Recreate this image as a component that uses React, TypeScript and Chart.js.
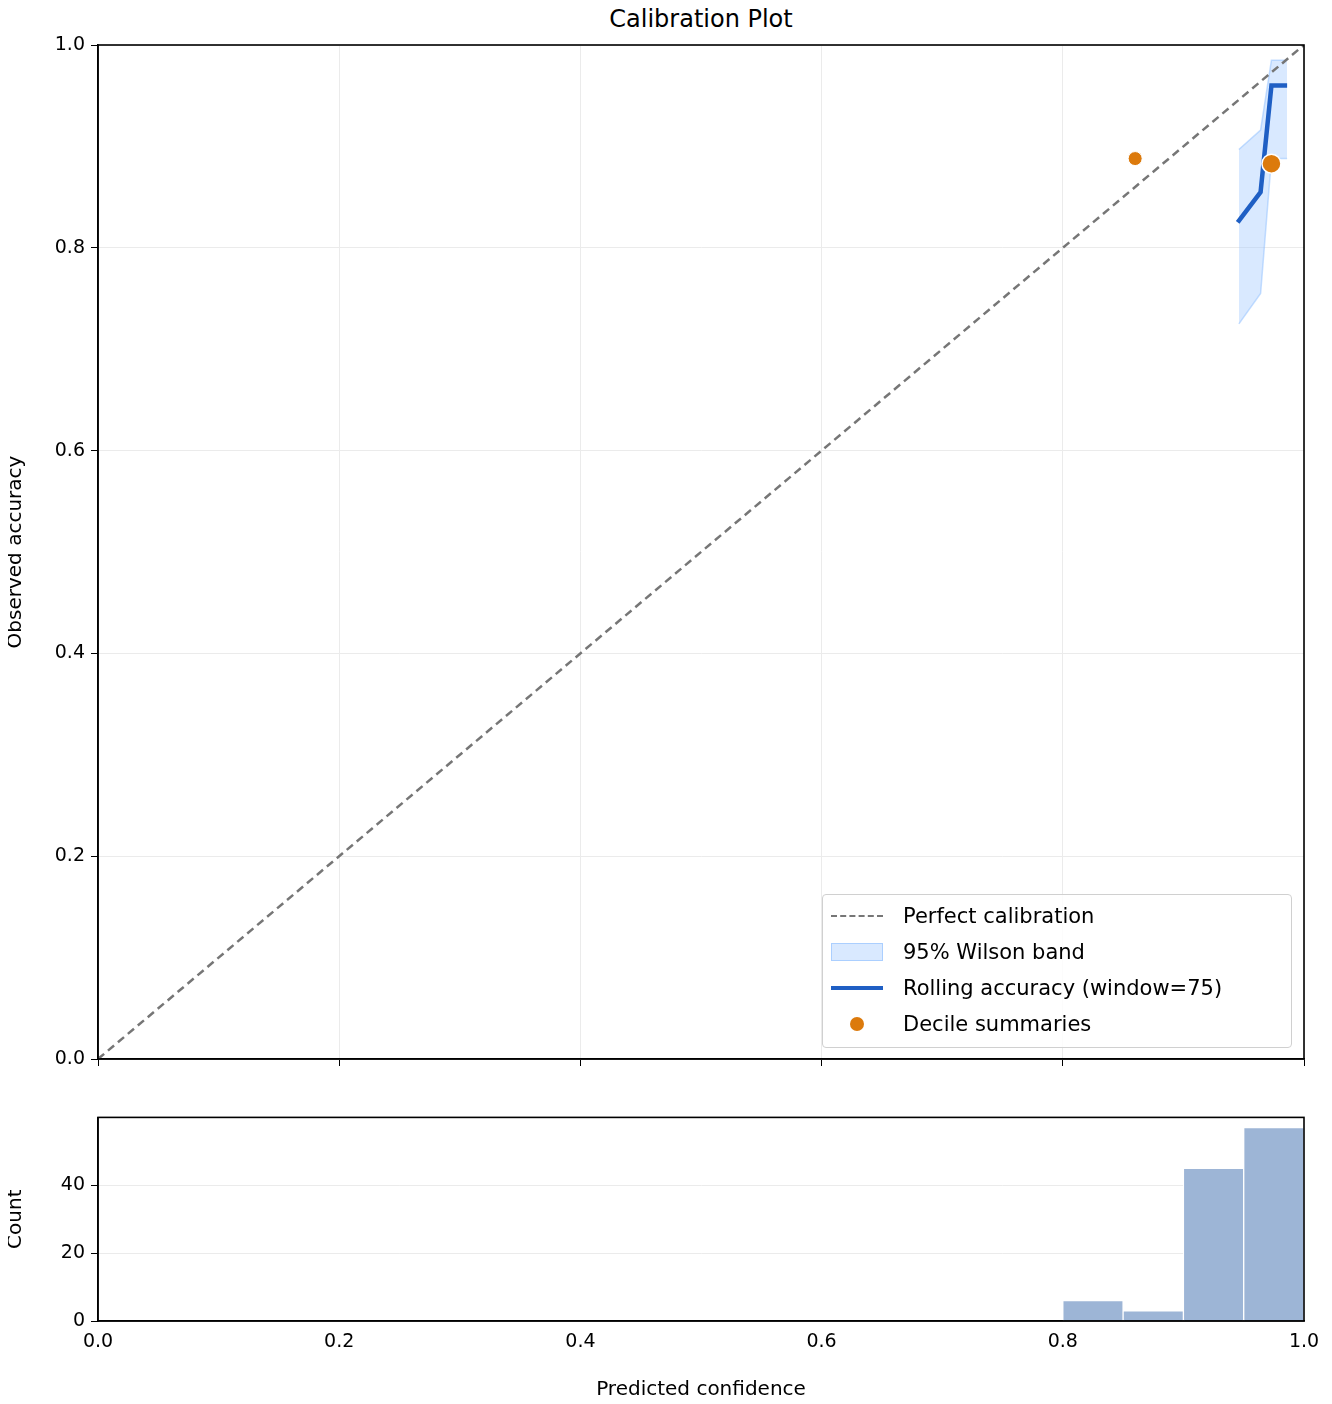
import React, { useEffect, useRef } from "react";
import { Chart, registerables } from "chart.js";
Chart.register(...registerables);

const diagX = [0, 1];
const rollX = [0.945, 0.964, 0.973, 0.986];
const rollY = [0.825, 0.855, 0.96, 0.96];
const bandX = [0.946, 0.964, 0.973, 0.986];
const bandUpper = [0.897, 0.916, 0.985, 0.985];
const bandLower = [0.725, 0.755, 0.888, 0.888];
const decileSmallX = [0.86];
const decileSmallY = [0.888];
const decileBigX = [0.973];
const decileBigY = [0.883];
const binCenters = [0.825, 0.875, 0.925, 0.975];
const binCounts = [6, 3, 45, 57];
const mainTicks = [0, 0.2, 0.4, 0.6, 0.8, 1.0];
const histTicks = [0, 20, 40];

const FONT = "'DejaVu Sans', sans-serif";
const frame = {
  id: "frame",
  afterDraw(c: any) {
    const a = c.chartArea, ctx = c.ctx;
    ctx.save(); ctx.strokeStyle = "#000"; ctx.lineWidth = 1.6;
    ctx.strokeRect(a.left, a.top, a.right - a.left, a.bottom - a.top);
    ctx.restore();
  },
};
const pts = (xs: number[], ys: number[]) => xs.map((x, i) => ({ x, y: ys[i] }));

export default function App() {
  const r1 = useRef<HTMLCanvasElement>(null);
  const r2 = useRef<HTMLCanvasElement>(null);
  useEffect(() => {
    const tickFont = { family: FONT, size: 19 };
    const titleFont = { family: FONT, size: 20 };
    const c1 = new Chart(r1.current!, {
      type: "line",
      data: {
        datasets: [
          { order: 10, data: pts(bandX, bandUpper), borderColor: "rgba(140,190,255,0.5)", borderWidth: 1.5, backgroundColor: "rgba(160,200,255,0.4)", fill: "+1", pointRadius: 0 },
          { order: 11, data: pts(bandX, bandLower), borderColor: "rgba(140,190,255,0.5)", borderWidth: 1.5, fill: false, pointRadius: 0 },
          { order: 5, data: pts(diagX, diagX), borderColor: "#767676", borderWidth: 2.5, borderDash: [8, 5], pointRadius: 0, fill: false },
          { order: 3, data: pts(rollX, rollY), borderColor: "#1f5fc4", borderWidth: 4.5, pointRadius: 0, fill: false },
          { order: 1, type: "scatter", data: pts(decileSmallX, decileSmallY), backgroundColor: "#dc7a0c", borderColor: "#fff", borderWidth: 1, pointRadius: 7 },
          { order: 0, type: "scatter", data: pts(decileBigX, decileBigY), backgroundColor: "#dc7a0c", borderColor: "#fff", borderWidth: 1.5, pointRadius: 9.5 },
        ] as any,
      },
      options: {
        animation: false, responsive: false, devicePixelRatio: 1,
        layout: { padding: { top: 45, right: 28, left: 0, bottom: 0 } },
        plugins: { legend: { display: false }, tooltip: { enabled: false } },
        scales: {
          x: {
            type: "linear", min: 0, max: 1,
            afterBuildTicks: (s: any) => { s.ticks = mainTicks.map((v) => ({ value: v })); },
            ticks: { callback: () => "", font: tickFont },
            grid: { color: "#ebebeb", tickColor: "#000", tickLength: 7, lineWidth: 1 },
            border: { color: "#000", width: 1.6 },
            afterFit: (s: any) => { s.height = 21; },
          },
          y: {
            type: "linear", min: 0, max: 1,
            afterBuildTicks: (s: any) => { s.ticks = mainTicks.map((v) => ({ value: v })); },
            ticks: { callback: (v: any) => Number(v).toFixed(1), font: tickFont, color: "#000", padding: 6 },
            grid: { color: "#ebebeb", tickColor: "#000", tickLength: 7 },
            border: { color: "#000", width: 1.6 },
            title: { display: true, text: "Observed accuracy", font: titleFont, color: "#000", padding: 4 },
            afterFit: (s: any) => { s.width = 98; },
          },
        },
      },
      plugins: [frame],
    });
    const c2 = new Chart(r2.current!, {
      type: "bar",
      data: {
        datasets: [{ data: pts(binCenters, binCounts), backgroundColor: "#9db5d6", borderColor: "#ffffff", borderWidth: 1, barPercentage: 1, categoryPercentage: 1 } as any],
      },
      options: {
        animation: false, responsive: false, devicePixelRatio: 1,
        layout: { padding: { top: 16, right: 28, left: 0, bottom: 0 } },
        plugins: { legend: { display: false }, tooltip: { enabled: false } },
        scales: {
          x: {
            type: "linear", min: 0, max: 1, offset: false,
            afterBuildTicks: (s: any) => { s.ticks = mainTicks.map((v) => ({ value: v })); },
            ticks: { callback: (v: any) => Number(v).toFixed(1), font: tickFont, color: "#000", maxRotation: 0 },
            grid: { display: false, tickColor: "#000", tickLength: 7 },
            border: { color: "#000", width: 1.6 },
            title: { display: true, text: "Predicted confidence", font: titleFont, color: "#000", padding: 2 },
            afterFit: (s: any) => { s.height = 83; },
          },
          y: {
            type: "linear", min: 0, max: 60,
            afterBuildTicks: (s: any) => { s.ticks = histTicks.map((v) => ({ value: v })); },
            ticks: { font: tickFont, color: "#000", padding: 6 },
            grid: { color: "#ebebeb", tickColor: "#000", tickLength: 7 },
            border: { color: "#000", width: 1.6 },
            title: { display: true, text: "Count", font: titleFont, color: "#000", padding: 4 },
            afterFit: (s: any) => { s.width = 98; },
          },
        },
      },
      plugins: [frame],
    });
    return () => { c1.destroy(); c2.destroy(); };
  }, []);

  const row = { display: "flex", alignItems: "center", height: 36 } as const;
  const sym = { width: 52, marginRight: 20, display: "flex", justifyContent: "center" } as const;
  return (
    <div style={{ position: "relative", width: 1332, height: 1404, margin: -8, background: "#fff", fontFamily: FONT }}>
      <div style={{ position: "absolute", top: 5, left: 98, width: 1206, textAlign: "center", fontSize: 24 }}>Calibration Plot</div>
      <canvas ref={r1} width={1332} height={1080} style={{ position: "absolute", left: 0, top: 0 }} />
      <canvas ref={r2} width={1332} height={304} style={{ position: "absolute", left: 0, top: 1100 }} />
      <div style={{ position: "absolute", left: 822, top: 894, width: 470, height: 154, border: "1.5px solid #d0d0d0", borderRadius: 4, background: "rgba(255,255,255,0.85)", fontSize: 21, padding: "3px 0 0 8px", boxSizing: "border-box" }}>
        <div style={row}><div style={sym}><div style={{ width: 52, borderTop: "2.5px dashed #767676" }} /></div>Perfect calibration</div>
        <div style={row}><div style={sym}><div style={{ width: 50, height: 16, background: "rgba(160,200,255,0.4)", border: "1px solid rgba(140,190,255,0.6)" }} /></div>95% Wilson band</div>
        <div style={row}><div style={sym}><div style={{ width: 54, borderTop: "4px solid #1f5fc4" }} /></div>Rolling accuracy (window=75)</div>
        <div style={row}><div style={sym}><div style={{ width: 14, height: 14, borderRadius: 7, background: "#dc7a0c" }} /></div>Decile summaries</div>
      </div>
    </div>
  );
}
